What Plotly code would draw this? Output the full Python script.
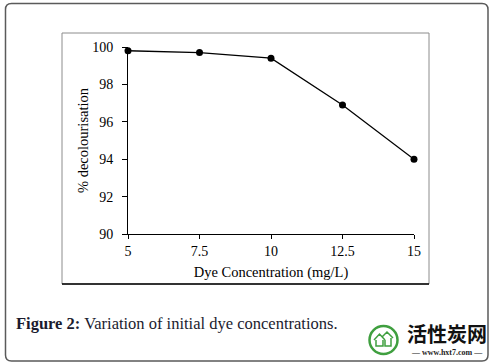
import re
import plotly.graph_objects as go

concentration = [5, 7.5, 10, 12.5, 15]
decolourisation = [99.8, 99.7, 99.4, 96.9, 94.0]
x_ticks = [5, 7.5, 10, 12.5, 15]
x_tick_labels = ["5", "7.5", "10", "12.5", "15"]
y_ticks = [90, 92, 94, 96, 98, 100]

W, H = 494, 364
def px(x): return x / W
def py(y): return 1 - y / H

FONT = "Liberation Serif, Times New Roman, serif"

fig = go.Figure()
fig.add_trace(go.Scatter(
    x=concentration, y=decolourisation, mode="lines+markers",
    line=dict(color="black", width=1.3),
    marker=dict(color="black", size=7),
    cliponaxis=False, showlegend=False,
))

fig.update_layout(
    template="none",
    width=W, height=H, autosize=False,
    margin=dict(l=0, r=0, t=0, b=0, pad=0),
    paper_bgcolor="white", plot_bgcolor="white",
    font=dict(family=FONT, size=14, color="black"),
    xaxis=dict(
        domain=[px(128), px(414)], range=[5, 15], automargin=False,
        tickvals=x_ticks, ticktext=x_tick_labels,
        tickfont=dict(family=FONT, size=14),
        showgrid=False, zeroline=False,
        showline=True, linecolor="black", linewidth=1,
        ticks="outside", ticklen=4, tickcolor="black",
        title=dict(text="Dye Concentration (mg/L)", standoff=9,
                   font=dict(family=FONT, size=14.5)),
        anchor="y",
    ),
    yaxis=dict(
        domain=[py(234), py(47)], range=[90, 100], automargin=False,
        tickvals=y_ticks, showgrid=False, zeroline=False,
        tickfont=dict(family=FONT, size=14),
        showline=True, linecolor="black", linewidth=1,
        ticks="outside", ticklen=5, tickcolor="black",
        ticklabelstandoff=6,
        title=dict(text="% decolourisation", standoff=0,
                   font=dict(family=FONT, size=14.5)),
        anchor="x",
    ),
)

def to_paper_path(path):
    def conv(m):
        a, b = float(m.group(1)), float(m.group(2))
        return f"{px(a):.5f},{py(b):.5f}"
    return re.sub(r"([\d.]+),([\d.]+)", conv, path)

# chart frame
fig.add_shape(type="rect", xref="paper", yref="paper",
              x0=px(62), x1=px(429), y0=py(284), y1=py(33),
              line=dict(color="#8c8c8c", width=1), layer="below")
fig.add_shape(type="line", xref="paper", yref="paper",
              x0=px(62), x1=px(429), y0=py(284), y1=py(284),
              line=dict(color="black", width=1.3))

# outer rounded border
x0, y0, x1, y1, r = 5.5, 3.5, 488, 361, 6
path = (f"M {x0+r},{y0} L {x1-r},{y0} Q {x1},{y0} {x1},{y0+r} "
        f"L {x1},{y1-r} Q {x1},{y1} {x1-r},{y1} L {x0+r},{y1} "
        f"Q {x0},{y1} {x0},{y1-r} L {x0},{y0+r} Q {x0},{y0} {x0+r},{y0} Z")
fig.add_shape(type="path", xref="paper", yref="paper", path=to_paper_path(path),
              line=dict(color="#5a5a5a", width=1.5))

# caption
fig.add_annotation(xref="paper", yref="paper", x=px(14), y=py(323),
                   xanchor="left", yanchor="middle", showarrow=False,
                   text="<b>Figure 2:</b> Variation of initial dye concentrations.",
                   font=dict(family=FONT, size=16.5, color="#1b1b2e"))

# watermark logo
fig.add_shape(type="circle", xref="paper", yref="paper",
              x0=px(369.5), x1=px(397.5), y0=py(354), y1=py(326),
              line=dict(color="#3f9f3f", width=2.5))
house = ("M 374,340 L 379.5,334 L 385,340 M 376,340 L 376,346 L 383,346 L 383,340 "
         "M 382,337 L 387,332 L 393,338 M 385,340 L 385,346 L 391,346 L 391,338")
fig.add_shape(type="path", xref="paper", yref="paper", path=to_paper_path(house),
              line=dict(color="#3f9f3f", width=1.5))
fig.add_annotation(xref="paper", yref="paper", x=px(447), y=py(333),
                   xanchor="center", yanchor="middle",
                   showarrow=False, text="<b>活性炭网</b>",
                   font=dict(family="Noto Sans CJK SC", size=20, color="#111"))
fig.add_annotation(xref="paper", yref="paper", x=px(447), y=py(352),
                   xanchor="center", yanchor="middle",
                   showarrow=False, text="— <b>www.hxt7.com</b> —",
                   font=dict(family=FONT, size=8, color="#222"))

fig.write_html("out.html", config={"displayModeBar": False},
               post_script="document.body.style.margin='0';")
